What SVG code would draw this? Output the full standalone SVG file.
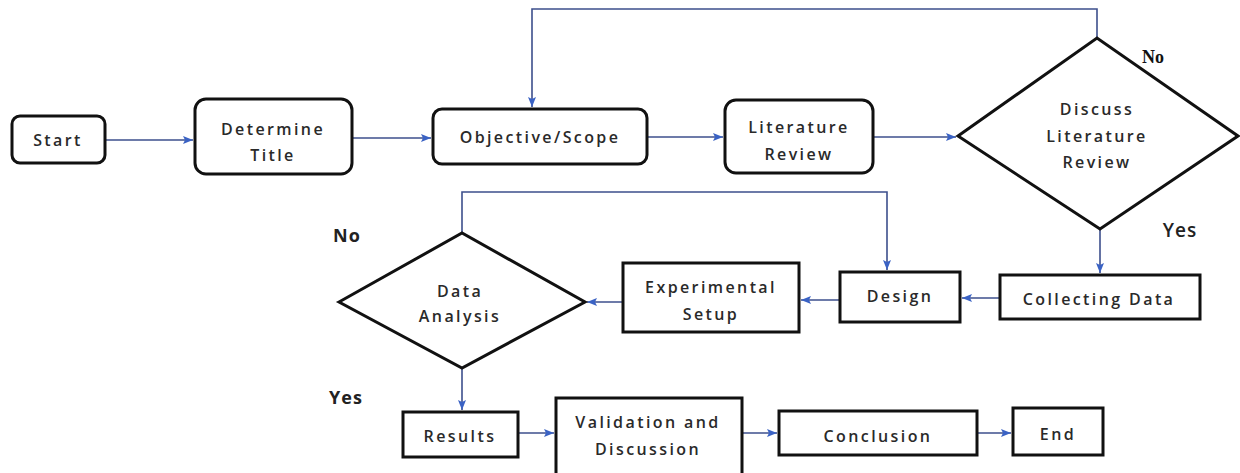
<svg xmlns="http://www.w3.org/2000/svg" width="1240" height="473" viewBox="0 0 1240 473">
<defs>
<marker id="arr" viewBox="0 0 10 8" refX="10" refY="4" markerWidth="10" markerHeight="8" markerUnits="userSpaceOnUse" orient="auto">
<path d="M0,0 L10,4 L0,8 L2,4 Z" fill="#3a62c4"/>
</marker>
<style>
.box{fill:#fff;stroke:#111;stroke-width:3}
.t{font-family:"Open Sans","Liberation Sans",sans-serif;font-size:16px;font-weight:600;fill:#2a2a2a;text-anchor:middle;letter-spacing:2.4px}
.c{fill:none;stroke:#3d4f8c;stroke-width:1.6;marker-end:url(#arr)}
.lbl{font-family:"Open Sans","Liberation Sans",sans-serif;font-size:18px;font-weight:700;fill:#222;text-anchor:middle;letter-spacing:1px}
</style>
</defs>
<rect width="1240" height="473" fill="#fff"/>
<g id="connectors">
<path class="c" d="M105,140 H193"/>
<path class="c" d="M352,138 H431"/>
<path class="c" d="M647,137 H723"/>
<path class="c" d="M873,137 H956"/>
<path class="c" d="M1097,38 V9 H532 V107"/>
<path class="c" d="M1100,229 V273"/>
<path class="c" d="M1000,298 H962"/>
<path class="c" d="M840,300 H801"/>
<path class="c" d="M623,302 H587"/>
<path class="c" d="M462,233 V192 H887 V270"/>
<path class="c" d="M462,368 V410"/>
<path class="c" d="M518,433 H554"/>
<path class="c" d="M742,433 H777"/>
<path class="c" d="M977,433 H1011"/>
</g>
<g id="start"><rect class="box" x="12" y="116" width="93" height="47" rx="8"/><text class="t" x="58" y="146">Start</text></g>
<g id="determine"><rect class="box" x="195" y="99" width="157" height="75" rx="11"/><text class="t" x="273" y="135">Determine</text><text class="t" x="273" y="161">Title</text></g>
<g id="objective"><rect class="box" x="433" y="109" width="214" height="55" rx="9"/><text class="t" x="540" y="143">Objective/Scope</text></g>
<g id="literature"><rect class="box" x="725" y="100" width="148" height="73" rx="11"/><text class="t" x="799" y="133">Literature</text><text class="t" x="799" y="160">Review</text></g>
<g id="discuss"><polygon class="box" points="958,136 1097,38 1238,136 1100,229"/><text class="t" x="1097" y="115">Discuss</text><text class="t" x="1097" y="142">Literature</text><text class="t" x="1097" y="168">Review</text></g>
<g id="collecting"><rect class="box" x="1000" y="275" width="200" height="44"/><text class="t" x="1099" y="305">Collecting Data</text></g>
<g id="design"><rect class="box" x="840" y="272" width="120" height="50"/><text class="t" x="900" y="302">Design</text></g>
<g id="experimental"><rect class="box" x="623" y="263" width="176" height="69"/><text class="t" x="711" y="293">Experimental</text><text class="t" x="711" y="320">Setup</text></g>
<g id="dataanalysis"><polygon class="box" points="339,302 462,233 585,302 462,368"/><text class="t" x="460" y="297">Data</text><text class="t" x="460" y="322">Analysis</text></g>
<g id="results"><rect class="box" x="403" y="412" width="115" height="45"/><text class="t" x="460" y="442">Results</text></g>
<g id="validation"><rect class="box" x="556" y="398" width="186" height="82"/><text class="t" x="648" y="428">Validation and</text><text class="t" x="648" y="455">Discussion</text></g>
<g id="conclusion"><rect class="box" x="779" y="411" width="198" height="44"/><text class="t" x="878" y="442">Conclusion</text></g>
<g id="end"><rect class="box" x="1013" y="408" width="90" height="47"/><text class="t" x="1058" y="440">End</text></g>
<g id="labels">
<text x="1153" y="63" style="font-family:'Liberation Serif',serif;font-size:18px;font-weight:700;fill:#111;text-anchor:middle">No</text>
<text x="1180" y="237" style="font-family:'Open Sans','Liberation Sans',sans-serif;font-size:19px;font-weight:600;fill:#222;text-anchor:middle;letter-spacing:1px">Yes</text>
<text class="lbl" x="347" y="242">No</text>
<text class="lbl" x="346" y="404">Yes</text>
</g>
</svg>
